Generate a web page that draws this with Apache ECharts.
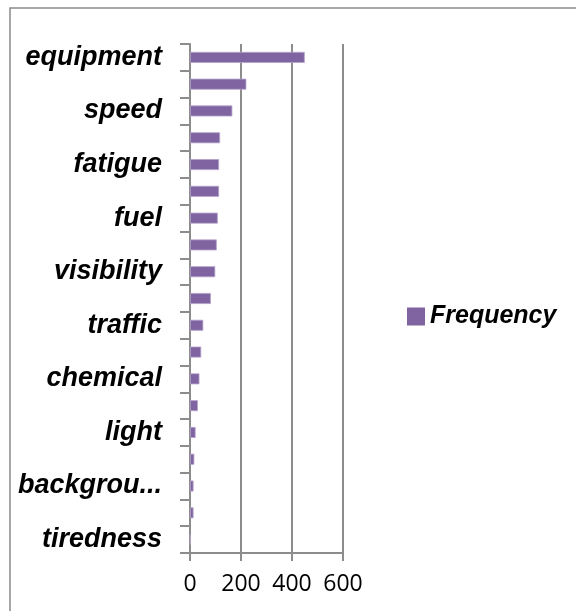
<!DOCTYPE html>
<html>
<head>
<meta charset="utf-8">
<script src="https://cdn.jsdelivr.net/npm/echarts@6/dist/echarts.min.js"></script>
<style>
  html, body { margin: 0; padding: 0; background: #fff; }
  #chart { width: 576px; height: 611px; }
</style>
</head>
<body>
<div id="chart"></div>
<script>
// categories top to bottom; every second label is hidden in the source, those names are guesses
var categories = ['equipment', 'weather', 'speed', 'road', 'fatigue', 'driver', 'fuel', 'maintenance',
	'visibility', 'alcohol', 'traffic', 'distraction', 'chemical', 'vehicle', 'light', 'noise',
	'background', 'experience', 'tiredness'];
var frequency = [450, 221, 166, 118, 114, 114, 109, 105, 99, 82, 52, 44, 37, 31, 22, 17, 14, 14, 3];
var xTicks = [0, 200, 400, 600];
var seriesName = 'Frequency';

var chart = echarts.init(document.getElementById('chart'), null, { renderer: 'canvas' });

var labelFont = {
	color: '#000',
	fontFamily: 'Liberation Sans',
	fontWeight: 'bold',
	fontStyle: 'italic',
	fontSize: 27
};

// shorten labels that are too wide, like the spreadsheet does ("backgrou...")
var measure = document.createElement('canvas').getContext('2d');
measure.font = 'italic bold 27px "Liberation Sans"';
function shortLabel(v) {
	if (measure.measureText(v).width <= 142) return v;
	return v.slice(0, 8) + '...';
}

var option = {
	backgroundColor: '#fff',
	animation: false,
	graphic: [{
		type: 'rect',
		shape: { x: 10, y: 8, width: 1200, height: 1200 },
		style: { fill: null, stroke: '#8a8a8a', lineWidth: 1.5 },
		silent: true
	}],
	legend: {
		data: [seriesName],
		left: 402,
		top: 299,
		icon: 'rect',
		itemWidth: 18,
		itemHeight: 18,
		itemStyle: { borderWidth: 0 },
		textStyle: Object.assign({}, labelFont, { fontSize: 25 })
	},
	grid: {
		left: 190,
		top: 44,
		right: 233,
		bottom: 58,
		containLabel: false
	},
	xAxis: {
		type: 'value',
		min: xTicks[0],
		max: xTicks[xTicks.length - 1],
		interval: xTicks[1] - xTicks[0],
		axisLine: { show: true, lineStyle: { color: '#8c8c8c', width: 2 } },
		axisTick: { show: true, length: 8, lineStyle: { color: '#8c8c8c', width: 2 } },
		axisLabel: {
			color: '#000',
			fontFamily: 'Open Sans',
			fontSize: 23,
			margin: 20
		},
		splitLine: { show: true, lineStyle: { color: '#8c8c8c', width: 2 } }
	},
	yAxis: {
		type: 'category',
		data: categories,
		inverse: true,
		axisLine: { show: true, lineStyle: { color: '#8c8c8c', width: 2 } },
		axisTick: { show: true, interval: 0, length: 10, lineStyle: { color: '#8c8c8c', width: 2 } },
		axisLabel: Object.assign({
			interval: 1,
			margin: 28,
			formatter: shortLabel
		}, labelFont)
	},
	series: [{
		name: seriesName,
		type: 'bar',
		barWidth: 11,
		itemStyle: {
			color: '#8064a2',
			borderColor: '#b5a5cc',
			borderWidth: 0.8
		},
		data: frequency
	}]
};

chart.setOption(option);
</script>
</body>
</html>
